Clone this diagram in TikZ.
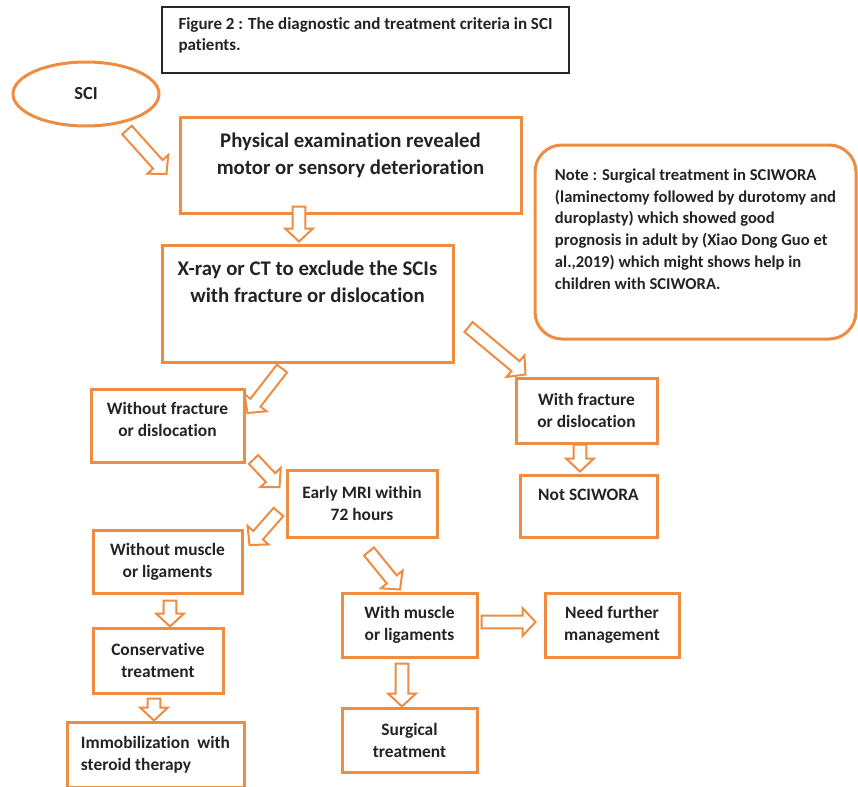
\documentclass[tikz,border=0pt]{standalone}
\usepackage{fontspec}
\setmainfont{Carlito}[Ligatures=NoCommon]
\usepackage{tikz}
\usetikzlibrary{calc,shapes.geometric}
\definecolor{sciorange}{RGB}{238,140,66}
\definecolor{scitext}{RGB}{35,35,35}
\newcommand\liftby[1]{\rule[-#1pt]{0pt}{#1pt}}
\tikzset{box/.style={rectangle, draw=sciorange, line width=1.5pt, align=center, inner sep=2pt, text=scitext, font=\bfseries\fontsize{8.7}{11}\selectfont},
bigbox/.style={box, font=\bfseries\fontsize{10.4}{13.5}\selectfont},
hollow/.style={draw=sciorange, line width=1pt, fill=white, line join=miter,
  to path={let \p1=(\tikztostart), \p2=(\tikztotarget),
    \n1={atan2(\y2-\y1,\x2-\x1)}, \n2={veclen(\x2-\x1,\y2-\y1)} in
    (\p1) ++(\n1+90:3.2pt) -- ++(\n1:\n2-6.5pt) -- ++(\n1+90:3.8pt) -- (\p2)
    -- ($(\p2)+(\n1+180:6.5pt)+(\n1-90:7pt)$) -- ++(\n1+90:3.8pt)
    -- ++(\n1+180:\n2-6.5pt) -- cycle}}}

\begin{document}
\begin{tikzpicture}[x=0.5pt,y=-0.5pt]
\useasboundingbox (0,0) rectangle (858,787);

\node[rectangle, draw=black!85, line width=0.8pt, align=left, text=scitext, font=\bfseries\fontsize{8.5}{10.5}\selectfont,
  minimum width=203.5pt, minimum height=33pt] (title) at (365.5,40)
  {Figure 2 : The diagnostic and treatment criteria in SCI\\patients.\liftby{5.5}};

\node[ellipse, draw=sciorange, line width=1.5pt, text=scitext, font=\bfseries\fontsize{9.2}{11}\selectfont,
  minimum width=73pt, minimum height=32pt] (sci) at (86,94) {SCI};

\node[bigbox, minimum width=170.5pt, minimum height=48pt] (exam) at (350.5,165)
  {Physical examination revealed\\motor or sensory deterioration\liftby{11.5}};
\node[bigbox, minimum width=145.5pt, minimum height=58.5pt] (xray) at (307.5,303.5)
  {X-ray or CT to exclude the SCIs\\with fracture or dislocation\liftby{22}};

\node[box, rounded corners=13.5pt, align=left, font=\bfseries\fontsize{8.3}{10.85}\selectfont,
  minimum width=160.5pt, minimum height=97pt] (note) at (695.5,242)
  {Note : Surgical treatment in SCIWORA\\(laminectomy followed by durotomy and\\duroplasty) which showed good\\prognosis in adult by (Xiao Dong Guo et\\al.,2019) which might shows help in\\children with SCIWORA.\liftby{13}};

\node[box, minimum width=76.5pt, minimum height=36.5pt] (wofrac) at (167.5,425.5) {Without fracture\\or dislocation\liftby{6.5}};
\node[box, minimum width=70.5pt, minimum height=32.5pt] (wfrac) at (586.5,410.5) {With fracture\\or dislocation};
\node[box, minimum width=68.5pt, minimum height=31pt] (notsci) at (588.5,506) {Not SCIWORA\liftby{11}};
\node[box, minimum width=75pt, minimum height=33.5pt] (mri) at (362,503.5) {Early MRI within\\72 hours};
\node[box, minimum width=74.5pt, minimum height=31.5pt] (womus) at (167.5,561.5) {Without muscle\\or ligaments};
\node[box, minimum width=65pt, minimum height=32.5pt] (conserv) at (158,660.5) {Conservative\\treatment};
\node[box, align=left, minimum width=88.5pt, minimum height=32.5pt] (immob) at (155.5,754.5) {Immobilization\ \ with\\steroid therapy};
\node[box, minimum width=67.5pt, minimum height=32pt] (wmus) at (409.5,625) {With muscle\\or ligaments};
\node[box, minimum width=67pt, minimum height=32pt] (need) at (612,625) {Need further\\management};
\node[box, minimum width=67.5pt, minimum height=32pt] (surg) at (409.5,740) {Surgical\\treatment};

% block arrows
\draw[hollow] ([shift={(41,36)}]sci.center) to ([shift={(-12,9)}]exam.west);
\draw[hollow] ([shift={(-51.5,-8)}]exam.south) to ([shift={(-8.5,-2)}]xray.north);
\draw[hollow] ([shift={(-25.5,5)}]xray.south) to ([shift={(2,-12.5)}]wofrac.east);
\draw[hollow] ([shift={(14,23.5)}]xray.east) to ([shift={(11,-2)}]wfrac.north west);
\draw[hollow] ([shift={(-6.5,0)}]wfrac.south) to ([shift={(-8.5,-2)}]notsci.north);
\draw[hollow] ([shift={(8,-4)}]wofrac.south east) to ([shift={(-6,-16.5)}]mri.west);
\draw[hollow] ([shift={(-7,8.5)}]mri.west) to ([shift={(6,-16.5)}]womus.east);
\draw[hollow] ([shift={(7,13)}]mri.south) to ([shift={(-9.5,-2)}]wmus.north);
\draw[hollow] ([shift={(2.5,6)}]womus.south) to ([shift={(12,0)}]conserv.north);
\draw[hollow] ([shift={(-4,4)}]conserv.south) to ([shift={(-1.5,0)}]immob.north);
\draw[hollow] ([shift={(-7.5,5)}]wmus.south) to ([shift={(-7.5,0)}]surg.north);
\draw[hollow] ([shift={(3,-3)}]wmus.east) to ([shift={(-8,-3)}]need.west);

\end{tikzpicture}
\end{document}
